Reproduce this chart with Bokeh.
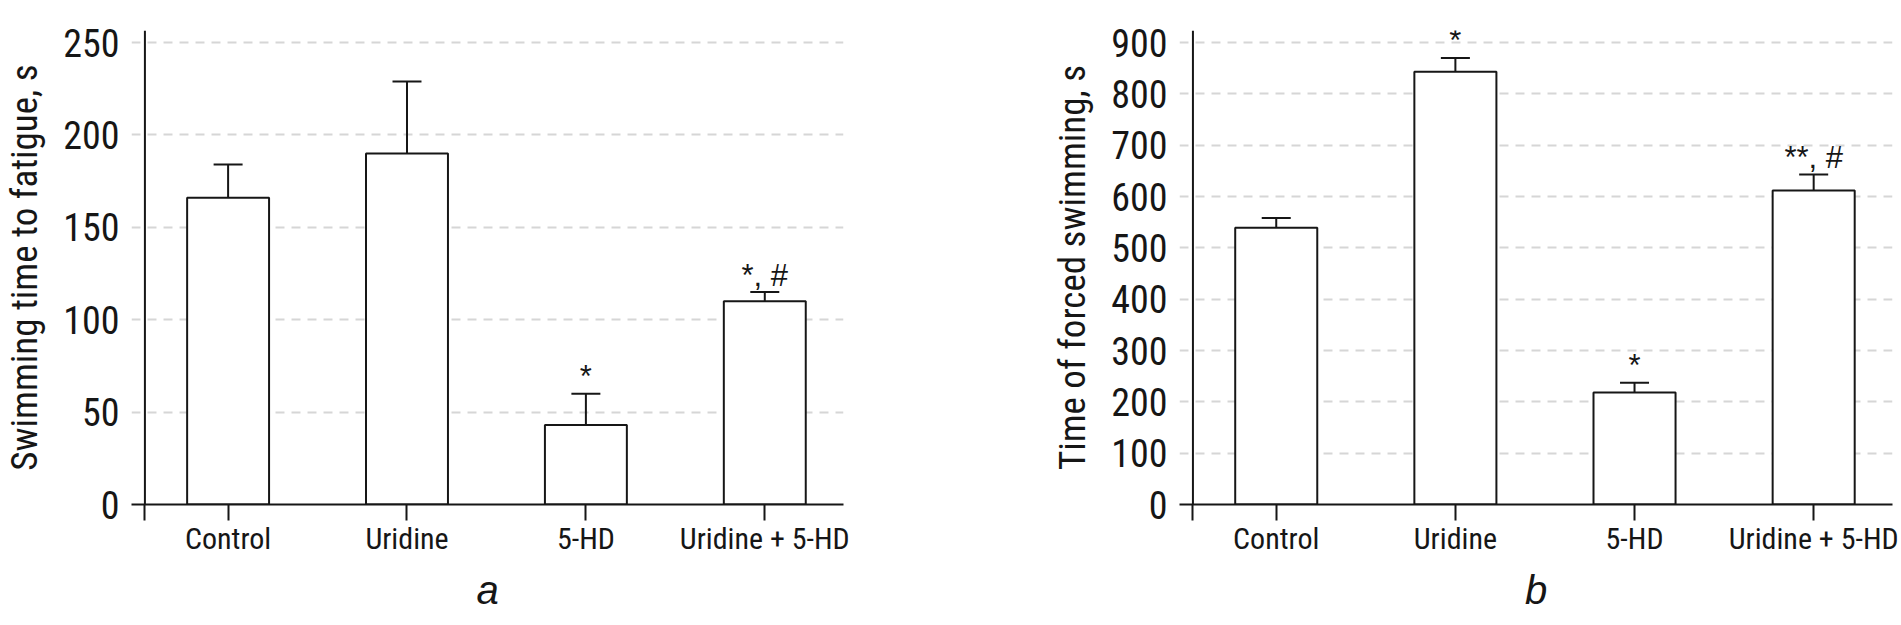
from bokeh.plotting import figure
from bokeh.models import FixedTicker, Range1d, Span, ColumnDataSource
from bokeh.layouts import row
from bokeh.embed import file_html
from bokeh.resources import INLINE
from bokeh.core.properties import value

# ---------------- data ----------------
categories = ["Control", "Uridine", "5-HD", "Uridine + 5-HD"]
positions = [1, 2, 3, 4]

fatigue_mean = [166, 190, 43, 110]
fatigue_sem = [18, 39, 17, 5]
fatigue_marks = ["", "", "*", "*, #"]
fatigue_ticks = [0, 50, 100, 150, 200, 250]

forced_mean = [539, 843, 218, 612]
forced_sem = [19, 27, 19, 31]
forced_marks = ["", "*", "*", "**, #"]
forced_ticks = [0, 100, 200, 300, 400, 500, 600, 700, 800, 900]

INK = "#161616"
FONT = "Roboto Condensed"
FIG_H = 624
TOP = 30
FRAME_H = 474
YAXIS_AT = 0.535


def make_panel(means, sems, marks, ticks, ytitle, letter,
               width, min_left, min_right):
    top_tick = ticks[-1]
    ppu = 461.9 / top_tick          # pixels per data unit
    p = figure(width=width, height=FIG_H,
               x_range=Range1d(0.46, 4.44),
               y_range=Range1d(0, top_tick + 12.1 / ppu),
               output_backend="svg", toolbar_location=None, tools="",
               min_border_left=min_left, min_border_right=min_right,
               min_border_top=TOP, min_border_bottom=FIG_H - TOP - FRAME_H)
    p.outline_line_color = None
    p.background_fill_color = "white"
    p.border_fill_color = "white"

    p.xgrid.visible = False
    p.ygrid.grid_line_color = "#d6d6d6"
    p.ygrid.grid_line_dash = "9 7"
    p.ygrid.grid_line_width = 2

    # y axis: labels from the axis, visible axis line drawn inside the frame
    p.yaxis.ticker = FixedTicker(ticks=ticks)
    p.yaxis.axis_line_color = None
    p.yaxis.major_tick_in = 0
    p.yaxis.major_tick_out = 0
    p.yaxis.minor_tick_line_color = None
    p.yaxis.major_label_standoff = 12
    p.yaxis.major_label_text_font = FONT
    p.yaxis.major_label_text_font_size = "38px"
    p.yaxis.major_label_text_color = INK
    p.yaxis.axis_label = ytitle
    p.yaxis.axis_label_standoff = 14
    p.yaxis.axis_label_text_font = FONT
    p.yaxis.axis_label_text_font_style = "normal"
    p.yaxis.axis_label_text_font_size = "37px"
    p.yaxis.axis_label_text_color = INK
    p.add_layout(Span(location=YAXIS_AT, dimension="height",
                      line_color=INK, line_width=2))

    # x axis at the baseline; extra tick under the y axis extends it downward
    xticks = [YAXIS_AT] + positions
    p.xaxis.ticker = FixedTicker(ticks=xticks)
    overrides = {YAXIS_AT: ""}
    overrides.update({pos: cat for pos, cat in zip(positions, categories)})
    p.xaxis.major_label_overrides = overrides
    p.xaxis.major_tick_in = 0
    p.xaxis.major_tick_out = 16
    p.xaxis.major_tick_line_width = 2
    p.xaxis.major_tick_line_color = INK
    p.xaxis.minor_tick_line_color = None
    p.xaxis.axis_line_width = 2
    p.xaxis.axis_line_color = INK
    p.xaxis.major_label_standoff = 0
    p.xaxis.major_label_text_font = FONT
    p.xaxis.major_label_text_font_size = "30px"
    p.xaxis.major_label_text_color = INK
    p.xaxis.axis_label = letter
    p.xaxis.axis_label_standoff = 9
    p.xaxis.axis_label_text_font = "Liberation Sans"
    p.xaxis.axis_label_text_font_style = "italic"
    p.xaxis.axis_label_text_font_size = "40px"
    p.xaxis.axis_label_text_color = INK

    err_top = [m + s for m, s in zip(means, sems)]
    cap_half = 0.081
    src = ColumnDataSource(dict(
        x=positions, top=means, err=err_top, marks=marks,
        cl=[x - cap_half for x in positions], cr=[x + cap_half for x in positions],
    ))
    p.vbar(x="x", top="top", bottom=0, width=0.458, source=src,
           fill_color="white", line_color=INK, line_width=2)
    p.segment(x0="x", y0="top", x1="x", y1="err", source=src,
              line_color=INK, line_width=2)
    p.segment(x0="cl", y0="err", x1="cr", y1="err", source=src,
              line_color=INK, line_width=2)
    p.text(x="x", y="err", text="marks", source=src,
           text_align="center", text_baseline="alphabetic", y_offset=-17,
           text_font=value("Liberation Sans"), text_font_size="31px",
           text_color=INK)
    return p


pa = make_panel(fatigue_mean, fatigue_sem, fatigue_marks, fatigue_ticks,
                "Swimming time to fatigue, s", "a",
                width=860, min_left=131, min_right=17)
pb = make_panel(forced_mean, forced_sem, forced_marks, forced_ticks,
                "Time of forced swimming, s", "b",
                width=1040, min_left=319, min_right=8)

layout = row(pa, pb)
open("out.html", "w").write(file_html(layout, INLINE))
